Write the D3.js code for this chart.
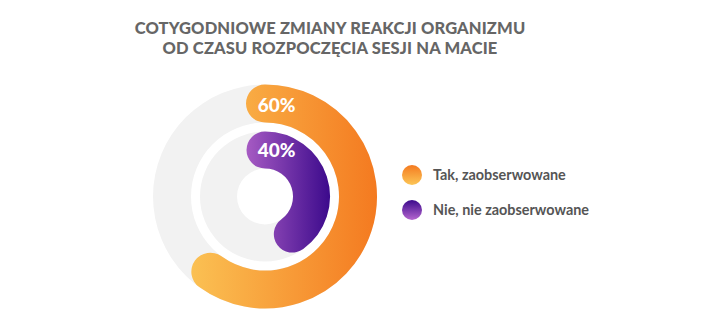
<!DOCTYPE html>
<html>
<head>
<meta charset="utf-8">
<script src="https://cdn.jsdelivr.net/npm/d3@7/dist/d3.min.js"></script>
<style>
  html, body { margin: 0; padding: 0; background: #fff; }
  svg { display: block; }
</style>
</head>
<body>
<svg id="chart" width="720" height="327"></svg>
<script>
// Chart data
const titleLines = ["COTYGODNIOWE ZMIANY REAKCJI ORGANIZMU", "OD CZASU ROZPOCZĘCIA SESJI NA MACIE"];
const categories = ["Tak, zaobserwowane", "Nie, nie zaobserwowane"];
const values = [60, 40];
const valueLabels = ["60%", "40%"];

const svg = d3.select("#chart");
const cx = 265, cy = 196.5;

// Ring geometry: outer ring for the first series, inner ring for the second
const rings = [
  { inner: 74, outer: 112 },
  { inner: 28, outer: 65 }
];

const angle = d3.scaleLinear().domain([0, 100]).range([0, 2 * Math.PI]);

const defs = svg.append("defs");
// Horizontal gradients across the rings (in the ring group's local space)
const ringGrads = [
  { id: "gOrange", x1: -75, x2: 112, stops: ["#fbc153", "#f47a20"] },
  { id: "gPurple", x1: -20, x2: 65, stops: ["#a85cc4", "#3c0a8c"] }
];
ringGrads.forEach(g => {
  const lg = defs.append("linearGradient").attr("id", g.id)
    .attr("gradientUnits", "userSpaceOnUse")
    .attr("x1", g.x1).attr("x2", g.x2).attr("y1", 0).attr("y2", 0);
  lg.append("stop").attr("offset", "0%").attr("stop-color", g.stops[0]);
  lg.append("stop").attr("offset", "100%").attr("stop-color", g.stops[1]);
});
// Vertical gradients for legend swatches
const legendGrads = [
  { id: "lOrange", stops: ["#f47a20", "#fcc656"] },
  { id: "lPurple", stops: ["#3c0a8c", "#b566cf"] }
];
legendGrads.forEach(g => {
  const lg = defs.append("linearGradient").attr("id", g.id)
    .attr("x1", 0).attr("x2", 0).attr("y1", 0).attr("y2", 1);
  lg.append("stop").attr("offset", "0%").attr("stop-color", g.stops[0]);
  lg.append("stop").attr("offset", "100%").attr("stop-color", g.stops[1]);
});

// Title
svg.append("text")
  .attr("x", 330).attr("text-anchor", "middle")
  .attr("font-family", "Lato, sans-serif").attr("font-weight", 900)
  .attr("font-size", 16.5).attr("fill", "#666")
  .attr("letter-spacing", 0.15)
  .selectAll("tspan").data(titleLines).join("tspan")
  .attr("x", 330).attr("y", (d, i) => 34 + i * 19.5)
  .text(d => d);

const g = svg.append("g").attr("transform", `translate(${cx},${cy})`);

// Grey track rings
const trackArc = d3.arc();
g.selectAll("path.track").data(rings).join("path")
  .attr("class", "track")
  .attr("d", r => trackArc({ innerRadius: r.inner, outerRadius: r.outer, startAngle: 0, endAngle: 2 * Math.PI }))
  .attr("fill", "#f2f2f2");

// Value arcs drawn as thick stroked paths with round caps
const fills = ["url(#gOrange)", "url(#gPurple)"];
values.forEach((v, i) => {
  const r = rings[i];
  const mid = (r.inner + r.outer) / 2;
  const p = d3.path();
  const a0 = angle(0) - Math.PI / 2, a1 = angle(v) - Math.PI / 2;
  p.moveTo(mid * Math.cos(a0), mid * Math.sin(a0));
  p.arc(0, 0, mid, a0, a1);
  g.append("path")
    .attr("d", p.toString())
    .attr("fill", "none")
    .attr("stroke", fills[i])
    .attr("stroke-width", r.outer - r.inner)
    .attr("stroke-linecap", "round");
});

// Value labels at the start of each arc
const labelY = [-84.5, -39.5];
valueLabels.forEach((t, i) => {
  g.append("text")
    .attr("x", 11.5).attr("y", labelY[i])
    .attr("text-anchor", "middle")
    .attr("font-family", "Lato, sans-serif").attr("font-weight", 900)
    .attr("font-size", 19).attr("fill", "#fff")
    .text(t);
});

// Legend
const legend = svg.append("g").attr("transform", "translate(412,175)");
const items = legend.selectAll("g").data(categories).join("g")
  .attr("transform", (d, i) => `translate(0,${i * 35})`);
items.append("circle").attr("r", 10)
  .attr("fill", (d, i) => `url(#${legendGrads[i].id})`);
items.append("text")
  .attr("x", 21).attr("y", 5)
  .attr("font-family", "Lato, sans-serif").attr("font-weight", 700)
  .attr("font-size", 14.4).attr("fill", "#555")
  .text(d => d);
</script>
</body>
</html>
